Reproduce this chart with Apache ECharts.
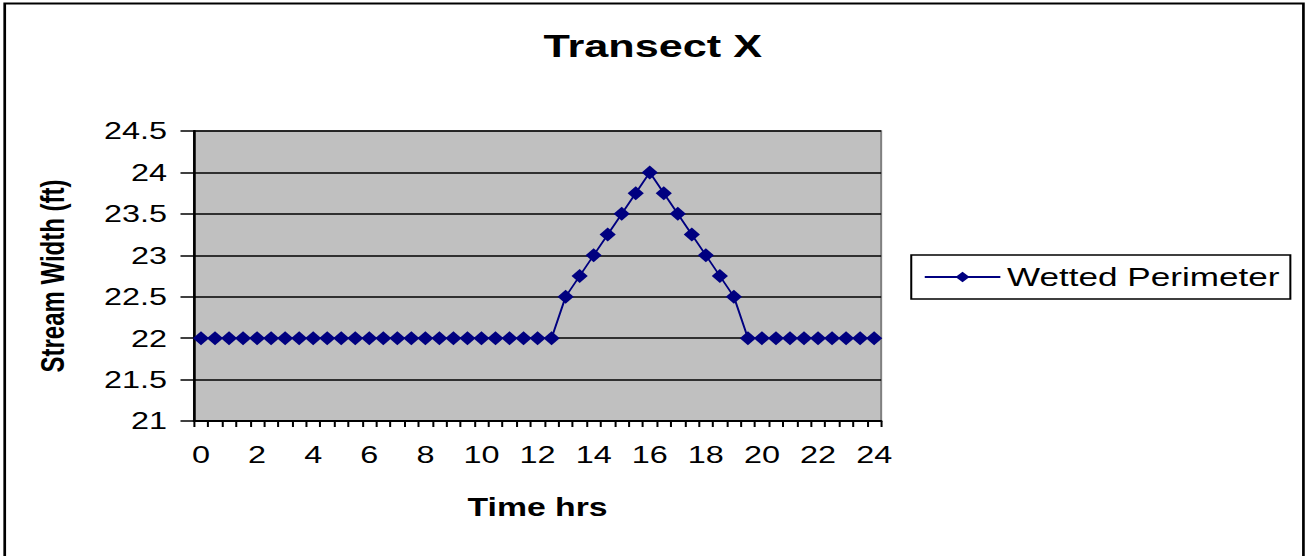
<!DOCTYPE html>
<html>
<head>
<meta charset="utf-8">
<script src="https://cdn.jsdelivr.net/npm/echarts@6/dist/echarts.min.js"></script>
<style>
  html, body { margin: 0; padding: 0; background: #fff; overflow: hidden; }
  /* the original picture is stretched sideways, so the chart is too */
  #main { width: 967px; height: 556px; transform: scaleX(1.35); transform-origin: 0 0; }
</style>
</head>
<body>
<div id="main"></div>
<script>
var hours = ['0','0.5','1','1.5','2','2.5','3','3.5','4','4.5','5','5.5','6','6.5','7','7.5',
             '8','8.5','9','9.5','10','10.5','11','11.5','12','12.5','13','13.5','14','14.5',
             '15','15.5','16','16.5','17','17.5','18','18.5','19','19.5','20','20.5','21',
             '21.5','22','22.5','23','23.5','24'];
var wettedPerimeter = [22,22,22,22,22,22,22,22,22,22,22,22,22,22,22,22,22,22,22,22,22,22,22,22,22,22,
                       22.5,22.75,23,23.25,23.5,23.75,24,23.75,23.5,23.25,23,22.75,22.5,
                       22,22,22,22,22,22,22,22,22,22];
var yTicks = { min: 21, max: 24.5, step: 0.5 };

var font = 'Liberation Sans, Arial, sans-serif';
var myChart = echarts.init(document.getElementById('main'), null, { renderer: 'svg' });
var option = {
    animation: false,
    backgroundColor: '#fff',
    graphic: [{
        type: 'rect',
        left: 1, top: 1,
        shape: { width: 962, height: 600 },
        style: { fill: 'none', stroke: '#000', lineWidth: 2 }
    }],
    title: {
        text: 'Transect X',
        left: 'center',
        top: 25,
        textStyle: { fontFamily: font, fontSize: 32, fontWeight: 'bold', color: '#000' }
    },
    legend: {
        data: ['Wetted Perimeter'],
        left: 675,
        top: 255,
        padding: [9, 8, 9, 9],
        borderColor: '#000',
        borderWidth: 1.5,
        itemWidth: 56,
        itemHeight: 13,
        textStyle: { fontFamily: font, fontSize: 26, color: '#000' }
    },
    grid: {
        left: 143.7,
        top: 131,
        width: 509,
        height: 290,
        show: true,
        backgroundColor: '#c0c0c0',
        borderColor: '#808080',
        borderWidth: 1.5
    },
    xAxis: {
        type: 'category',
        data: hours,
        boundaryGap: true,
        name: 'Time hrs',
        nameLocation: 'middle',
        nameGap: 74,
        nameTextStyle: { fontFamily: font, fontSize: 25, fontWeight: 'bold', color: '#000' },
        axisLine: { lineStyle: { color: '#000', width: 2 } },
        axisTick: { show: true, interval: 0, length: 6, lineStyle: { color: '#000', width: 1.5 } },
        axisLabel: { interval: 3, margin: 22, fontFamily: font, fontSize: 24, color: '#000' },
        splitLine: { show: false }
    },
    yAxis: {
        type: 'value',
        min: yTicks.min,
        max: yTicks.max,
        interval: yTicks.step,
        name: 'Stream Width (ft)',
        nameLocation: 'middle',
        nameGap: 93,
        nameTextStyle: { fontFamily: font, fontSize: 24, fontWeight: 'bold', color: '#000' },
        axisLine: { show: true, lineStyle: { color: '#000', width: 2 } },
        axisTick: { show: true, length: 10, lineStyle: { color: '#000', width: 1.5 } },
        axisLabel: { margin: 20, fontFamily: font, fontSize: 24, color: '#000' },
        splitLine: { lineStyle: { color: '#000', width: 1.5 } }
    },
    series: [{
        name: 'Wetted Perimeter',
        type: 'line',
        data: wettedPerimeter,
        symbol: 'diamond',
        symbolSize: [12, 14],
        showSymbol: true,
        showAllSymbol: true,
        color: '#000080',
        lineStyle: { color: '#000080', width: 1.5 },
        itemStyle: { color: '#000080' }
    }]
};
myChart.setOption(option);
</script>
</body>
</html>
